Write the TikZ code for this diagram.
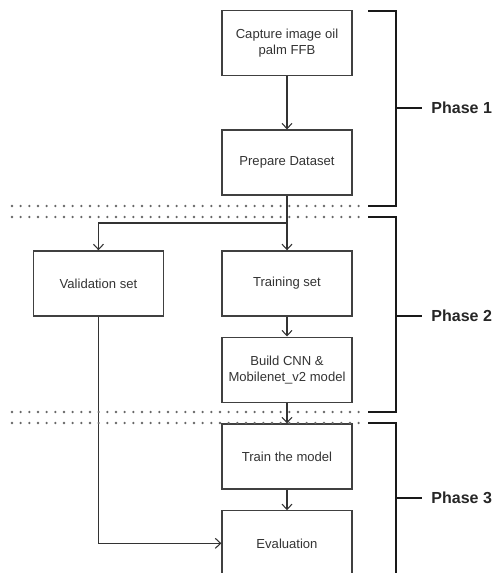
\documentclass[tikz,border=0pt]{standalone}
\usepackage{fontspec}
\setmainfont{Liberation Sans}
\usepackage{tikz}
\usetikzlibrary{arrows.meta,positioning}

\begin{document}
\begin{tikzpicture}[x=0.75pt, y=-0.75pt, node distance=15.5pt, auto,
  block/.style={rectangle, draw=black!75, line width=0.9pt, minimum height=48.75pt, minimum width=97.5pt, inner sep=2pt, align=center, text=black!80, font=\fontsize{9.8}{12}\selectfont},
  arrow/.style={-{Straight Barb[length=4pt, width=7.5pt]}, draw=black!80, line width=0.8pt},
  bracket/.style={line width=1.5pt, draw=black!90},
  sep/.style={line width=1.9pt, black!60, dash pattern=on 0pt off 6.5pt, line cap=round},
  phase/.style={anchor=west, font=\fontsize{12}{14}\selectfont\bfseries, text=black!85}]
\useasboundingbox (0,0) rectangle (496,573);
\node[block] (cap) at (287,43) {Capture image oil\\ palm FFB};
\node[block, below=40pt of cap] (prep) {Prepare Dataset};
\node[block, below=41pt of prep] (train) {Training set};
\node[block, left=43pt of train] (val) {Validation set};
\node[block, below=15pt of train] (build) {Build CNN \&\\ Mobilenet\_v2 model};
\node[block, below=of build] (model) {Train the model};
\node[block, below=of model] (eval) {Evaluation};
\coordinate (split) at (287,223);
\draw[arrow] (cap) -- (prep);
\draw[arrow] (prep) -- (train);
\draw[arrow] (split) -| (val);
\draw[arrow] (train) -- (build);
\draw[arrow] (build) -- (model);
\draw[arrow] (model) -- (eval);
\draw[arrow] (val.south) |- (eval.west);
% phase separators
\foreach \y in {206,217,412,423} \draw[sep] (12,\y) -- (362,\y);
% phase brackets
\draw[bracket] (368,11) -- (396,11) -- (396,206) -- (368,206);
\draw[bracket] (368,217) -- (396,217) -- (396,412) -- (368,412);
\draw[bracket] (368,423) -- (396,423) -- (396,580);
\draw[bracket] (396,108) -- (422,108) node[phase, xshift=3pt] (ph1) {Phase 1};
\draw[bracket] (396,316) -- (422,316) node[phase, xshift=3pt] (ph2) {Phase 2};
\draw[bracket] (396,498) -- (422,498) node[phase, xshift=3pt] (ph3) {Phase 3};
\end{tikzpicture}
\end{document}
